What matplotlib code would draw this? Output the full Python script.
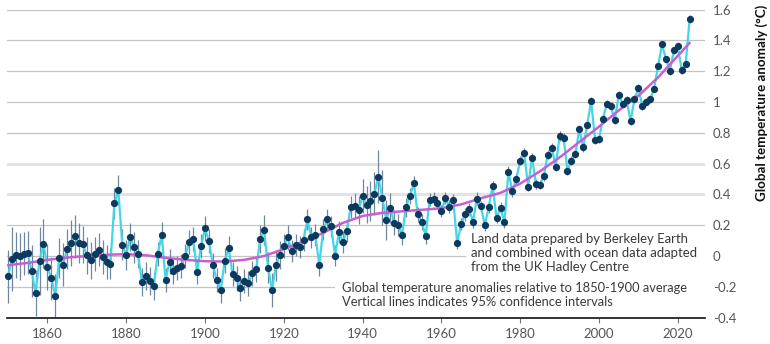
import matplotlib
matplotlib.use("Agg")
import matplotlib.pyplot as plt
from matplotlib.patches import Rectangle

plt.rcParams['font.family'] = ['Lato', 'DejaVu Sans']
plt.rcParams['axes.unicode_minus'] = False

years = list(range(1850, 2024))
anomaly = [
    -0.133, -0.020, 0.006, -0.003, 0.016, 0.021, -0.099, -0.238, -0.031, 0.079,
    -0.073, -0.144, -0.259, -0.016, -0.057, 0.045, 0.086, 0.127, 0.084, 0.075,
    0.006, -0.027, 0.012, 0.042, -0.005, -0.038, -0.049, 0.342, 0.429, 0.073,
    0.006, 0.125, 0.056, 0.012, -0.170, -0.131, -0.162, -0.194, 0.012, 0.138,
    -0.155, -0.036, -0.099, -0.079, -0.066, -0.001, 0.092, 0.110, -0.101, 0.066,
    0.179, 0.097, -0.060, -0.157, -0.222, -0.031, 0.049, -0.118, -0.146, -0.209,
    -0.162, -0.177, -0.112, -0.086, 0.110, 0.169, -0.075, -0.222, -0.060, 0.008,
    0.064, 0.121, 0.034, 0.073, 0.060, 0.103, 0.238, 0.121, 0.136, -0.057,
    0.173, 0.238, 0.192, 0.003, 0.155, 0.092, 0.164, 0.320, 0.327, 0.299,
    0.388, 0.334, 0.360, 0.403, 0.516, 0.379, 0.234, 0.312, 0.216, 0.201,
    0.134, 0.316, 0.390, 0.472, 0.270, 0.221, 0.130, 0.366, 0.373, 0.347,
    0.292, 0.375, 0.321, 0.364, 0.084, 0.208, 0.270, 0.305, 0.223, 0.373,
    0.325, 0.199, 0.316, 0.455, 0.247, 0.314, 0.218, 0.547, 0.420, 0.501,
    0.620, 0.672, 0.451, 0.638, 0.468, 0.462, 0.520, 0.659, 0.703, 0.581,
    0.779, 0.766, 0.555, 0.620, 0.664, 0.822, 0.707, 0.853, 1.005, 0.755,
    0.759, 0.892, 0.990, 0.974, 0.881, 1.047, 0.990, 1.016, 0.874, 1.018,
    1.091, 0.972, 0.998, 1.020, 1.087, 1.237, 1.374, 1.276, 1.202, 1.335,
    1.363, 1.206, 1.250, 1.539,
]
ci95 = [
    0.17, 0.21, 0.15, 0.15, 0.14, 0.14, 0.17, 0.15, 0.22, 0.16,
    0.15, 0.14, 0.14, 0.13, 0.14, 0.13, 0.15, 0.14, 0.13, 0.12,
    0.12, 0.12, 0.11, 0.11, 0.11, 0.11, 0.10, 0.10, 0.10, 0.10,
    0.10, 0.09, 0.10, 0.09, 0.09, 0.09, 0.09, 0.09, 0.08, 0.08,
    0.08, 0.08, 0.08, 0.08, 0.08, 0.08, 0.08, 0.08, 0.08, 0.08,
    0.08, 0.08, 0.08, 0.08, 0.08, 0.08, 0.08, 0.08, 0.08, 0.08,
    0.08, 0.08, 0.08, 0.08, 0.09, 0.10, 0.10, 0.11, 0.10, 0.09,
    0.08, 0.08, 0.07, 0.07, 0.07, 0.07, 0.07, 0.07, 0.07, 0.07,
    0.07, 0.07, 0.07, 0.07, 0.07, 0.07, 0.07, 0.07, 0.08, 0.09,
    0.11, 0.12, 0.13, 0.14, 0.17, 0.18, 0.13, 0.10, 0.08, 0.07,
    0.06, 0.06, 0.05, 0.05, 0.05, 0.05, 0.05, 0.04, 0.04, 0.04,
    0.04, 0.04, 0.04, 0.04, 0.04, 0.04, 0.04, 0.04, 0.04, 0.04,
    0.035, 0.035, 0.035, 0.035, 0.035, 0.035, 0.035, 0.035, 0.035, 0.035,
    0.03, 0.03, 0.03, 0.03, 0.03, 0.03, 0.03, 0.03, 0.03, 0.03,
    0.03, 0.03, 0.03, 0.03, 0.03, 0.03, 0.03, 0.03, 0.03, 0.03,
    0.025, 0.025, 0.025, 0.025, 0.025, 0.025, 0.025, 0.025, 0.025, 0.025,
    0.025, 0.025, 0.025, 0.025, 0.025, 0.025, 0.025, 0.025, 0.025, 0.025,
    0.025, 0.025, 0.025, 0.025,
]
smooth_years = [1850, 1855, 1860, 1865, 1870, 1875, 1880, 1885, 1890, 1895,
                1900, 1905, 1910, 1915, 1920, 1925, 1930, 1935, 1940, 1945,
                1950, 1955, 1960, 1965, 1970, 1975, 1980, 1985, 1990, 1995,
                2000, 2005, 2010, 2015, 2020, 2023]
smooth_vals = [-0.060, -0.045, -0.025, -0.010, 0.000, 0.008, 0.012, 0.005, -0.012, -0.025,
               -0.034, -0.036, -0.025, 0.000, 0.045, 0.095, 0.150, 0.215, 0.260, 0.280,
               0.290, 0.300, 0.310, 0.335, 0.375, 0.410, 0.470, 0.550, 0.640, 0.740,
               0.840, 0.945, 1.040, 1.160, 1.300, 1.384]

yticks = [-0.4, -0.2, 0, 0.2, 0.4, 0.6, 0.8, 1, 1.2, 1.4, 1.6]
ytick_labels = ["-0.4", "-0.2", "0", "0.2", "0.4", "0.6", "0.8", "1", "1.2", "1.4", "1.6"]
xticks = [1860, 1880, 1900, 1920, 1940, 1960, 1980, 2000, 2020]
xtick_labels = ["1860", "1880", "1900", "1920", "1940", "1960", "1980", "2000", "2020"]

note1 = "Land data prepared by Berkeley Earth\nand combined with ocean data adapted\nfrom the UK Hadley Centre"
note2 = "Global temperature anomalies relative to 1850-1900 average\nVertical lines indicates 95% confidence intervals"
ylabel = "Global temperature anomaly (°C)"

W, H = 770, 344
fig = plt.figure(figsize=(7.7, 3.44), dpi=100)
ax_l, ax_r, ax_t, ax_b = 6.7, 705.0, 9.6, 317.6
ax = fig.add_axes([ax_l / W, 1 - ax_b / H, (ax_r - ax_l) / W, (ax_b - ax_t) / H])
ax.set_xlim(1849.67, 2026.9)
ax.set_ylim(-0.4, 1.6)

# gridlines
for v in yticks[1:]:
    if v in (0.4, 0.6):
        ax.axhline(v, color="#e3e3e3", lw=2.2, zorder=0)
    else:
        ax.axhline(v, color="#c4c4c4", lw=0.9, zorder=0)

def px_to_axes(x, y):
    return (x - ax_l) / (ax_r - ax_l), (ax_b - y) / (ax_b - ax_t)

# white boxes behind the notes
x0, y0 = px_to_axes(466.5, 278)
x1, y1 = px_to_axes(706, 233)
ax.add_patch(Rectangle((x0, y0), x1 - x0, y1 - y0, transform=ax.transAxes,
                       facecolor="white", edgecolor="none", zorder=0.5, clip_on=False))
x0, y0 = px_to_axes(335.5, 312)
x1, y1 = px_to_axes(706, 280)
ax.add_patch(Rectangle((x0, y0), x1 - x0, y1 - y0, transform=ax.transAxes,
                       facecolor="white", edgecolor="none", zorder=0.5, clip_on=False))

# data
ax.errorbar(years, anomaly, yerr=ci95, fmt="none", ecolor="#6f87a0",
            elinewidth=0.9, capsize=0, zorder=1, clip_on=False)
ax.plot(years, anomaly, color="#45d6e6", lw=1.6, zorder=2, clip_on=False)
ax.plot(smooth_years, smooth_vals, color="#c75fd2", lw=1.8, zorder=3,
        solid_capstyle="round", clip_on=False)
ax.plot(years, anomaly, linestyle="none", marker="o", ms=4.2,
        markerfacecolor="#0c3a5e", markeredgecolor="#0c3a5e", zorder=4, clip_on=False)

# notes
tx, ty = px_to_axes(471.5, 233.0)
ax.text(tx, ty, note1, transform=ax.transAxes, ha="left", va="top",
        fontsize=9.45, color="#3a3a3a", linespacing=1.2, zorder=5)
tx, ty = px_to_axes(342.5, 282.0)
ax.text(tx, ty, note2, transform=ax.transAxes, ha="left", va="top",
        fontsize=9.25, color="#3a3a3a", linespacing=1.2, zorder=5)

# axes styling
for s in ("top", "left", "right"):
    ax.spines[s].set_visible(False)
ax.spines["bottom"].set_color("#111111")
ax.spines["bottom"].set_linewidth(1.2)
ax.spines["bottom"].set_zorder(6)

ax.yaxis.tick_right()
ax.set_yticks(yticks)
ax.set_yticklabels(ytick_labels)
ax.tick_params(axis="y", length=0, pad=5.5, labelsize=9.5, labelcolor="#555555")
ax.set_xticks(xticks)
ax.set_xticklabels(xtick_labels)
ax.tick_params(axis="x", length=3.5, width=0.8, color="#777777", pad=4,
               labelsize=9.5, labelcolor="#555555")

fig.text(762 / W, 1 - 5 / H, ylabel, rotation=90, ha="center", va="top",
         fontsize=9.6, fontweight="bold", color="#111111")

fig.savefig("out.png", dpi=100)
